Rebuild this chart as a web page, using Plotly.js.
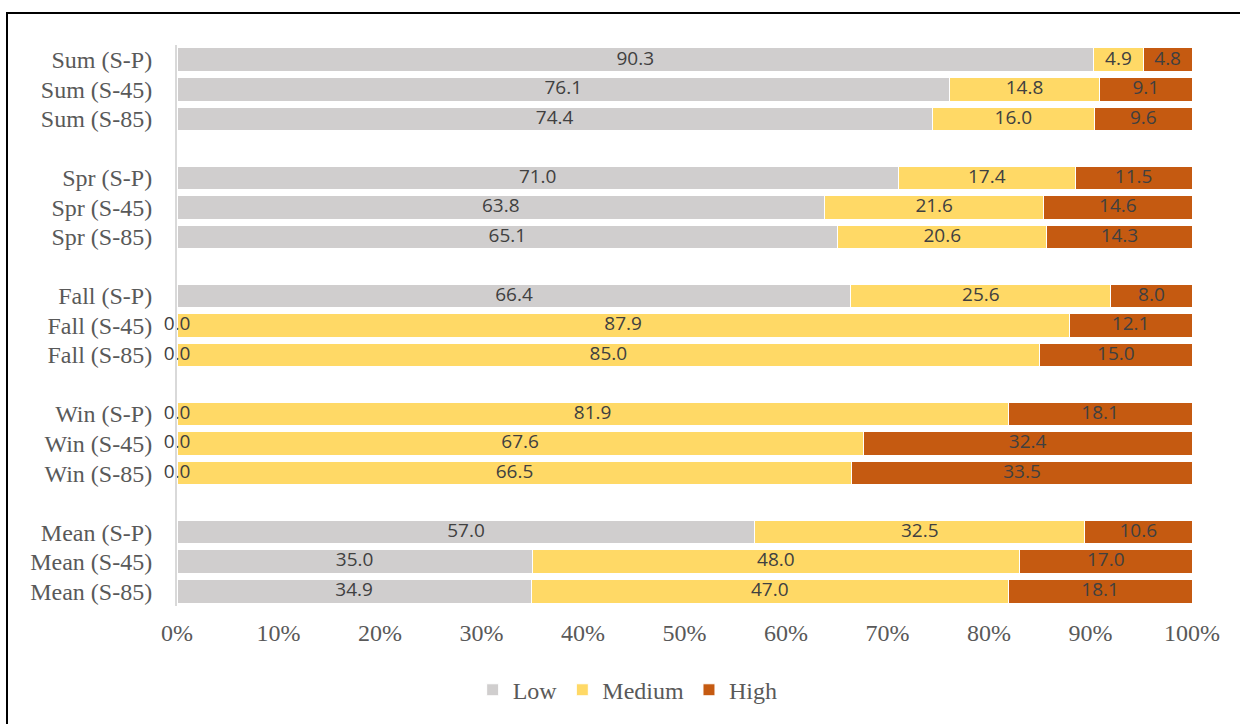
<!DOCTYPE html>
<html>
<head>
<meta charset="utf-8">
<script src="https://cdn.plot.ly/plotly-3.0.1.min.js"></script>
<style>
  html, body { margin: 0; padding: 0; background: #fff; overflow: hidden; }
  #chart { width: 1240px; height: 724px; }
  #frame { position: absolute; left: 6px; top: 12px; width: 1300px; height: 800px;
           border-left: 2px solid #000; border-top: 2px solid #000; pointer-events: none; }
</style>
</head>
<body>
<div id="chart"></div>
<div id="frame"></div>
<script>
// Row labels, top to bottom ('' marks a spacer row between groups)
const categories = [
  'Sum (S-P)', 'Sum (S-45)', 'Sum (S-85)', '',
  'Spr (S-P)', 'Spr (S-45)', 'Spr (S-85)', '',
  'Fall (S-P)', 'Fall (S-45)', 'Fall (S-85)', '',
  'Win (S-P)', 'Win (S-45)', 'Win (S-85)', '',
  'Mean (S-P)', 'Mean (S-45)', 'Mean (S-85)'
];
const lowValues    = [90.3, 76.1, 74.4, null, 71.0, 63.8, 65.1, null, 66.4, 0.0, 0.0, null, 0.0, 0.0, 0.0, null, 57.0, 35.0, 34.9];
const mediumValues = [4.9, 14.8, 16.0, null, 17.4, 21.6, 20.6, null, 25.6, 87.9, 85.0, null, 81.9, 67.6, 66.5, null, 32.5, 48.0, 47.0];
const highValues   = [4.8, 9.1, 9.6, null, 11.5, 14.6, 14.3, null, 8.0, 12.1, 15.0, null, 18.1, 32.4, 33.5, null, 10.6, 17.0, 18.1];
const seriesNames  = ['Low', 'Medium', 'High'];
const xTickValues  = [0, 10, 20, 30, 40, 50, 60, 70, 80, 90, 100];

// Unique keys for the spacer rows so each keeps its own slot
let gapCount = 0;
const yKeys = categories.map(c => c === '' ? ' '.repeat(++gapCount) : c);

const colors = ['#D0CECE', '#FFD966', '#C55A11'];
const series = [lowValues, mediumValues, highValues];
const serif = 'Liberation Serif';

const traces = [];
series.forEach((vals, i) => {
  const ys = [], xs = [];
  vals.forEach((v, j) => { if (v !== null) { ys.push(yKeys[j]); xs.push(v); } });
  traces.push({
    type: 'bar', orientation: 'h', name: seriesNames[i],
    x: xs, y: ys,
    marker: { color: colors[i], line: { color: '#ffffff', width: 1 } },
    textposition: 'none', hoverinfo: 'x+y+name'
  });
});

// Data labels at the centre of each (normalised) segment
series.forEach((vals, i) => {
  const xs = [], ys = [], txt = [];
  vals.forEach((v, j) => {
    if (v === null) return;
    const total = lowValues[j] + mediumValues[j] + highValues[j];
    let start = 0;
    for (let k = 0; k < i; k++) start += series[k][j];
    xs.push((start + v / 2) / total * 100);
    ys.push(yKeys[j]);
    txt.push(v.toFixed(1));
  });
  traces.push({
    type: 'scatter', mode: 'text', x: xs, y: ys, text: txt,
    textposition: 'middle center', cliponaxis: false,
    textfont: { family: 'Open Sans', size: 19, color: '#404040' },
    showlegend: false, hoverinfo: 'skip'
  });
});

const layout = {
  width: 1240, height: 724,
  font: { family: serif, size: 24, color: '#595959' },
  margin: { l: 177, r: 48, t: 45, b: 117, pad: 0 },
  paper_bgcolor: '#ffffff', plot_bgcolor: '#ffffff',
  barmode: 'stack', barnorm: 'percent', bargap: 0.2,
  showlegend: true,
  xaxis: {
    range: [0, 100], tickvals: xTickValues,
    ticktext: xTickValues.map(v => v + '%'),
    showgrid: false, zeroline: false, showline: false, ticks: '',
    ticklabelstandoff: 10,
    tickfont: { family: serif, size: 24, color: '#595959' },
    fixedrange: true
  },
  yaxis: {
    type: 'category', categoryorder: 'array', categoryarray: yKeys,
    tickvals: yKeys, ticktext: categories,
    autorange: false, range: [categories.length - 0.5, -0.5],
    showgrid: false, zeroline: false, showline: true, linecolor: '#D9D9D9', linewidth: 2,
    ticks: '', ticklabelstandoff: 18,
    tickfont: { family: serif, size: 24, color: '#595959' },
    fixedrange: true
  },
  legend: {
    orientation: 'h', x: 0.444, xanchor: 'center', y: -0.148, yanchor: 'middle',
    traceorder: 'normal',
    font: { family: serif, size: 24, color: '#595959' }
  }
};

Plotly.newPlot('chart', traces, layout, { displayModeBar: false, staticPlot: true });
</script>
</body>
</html>
